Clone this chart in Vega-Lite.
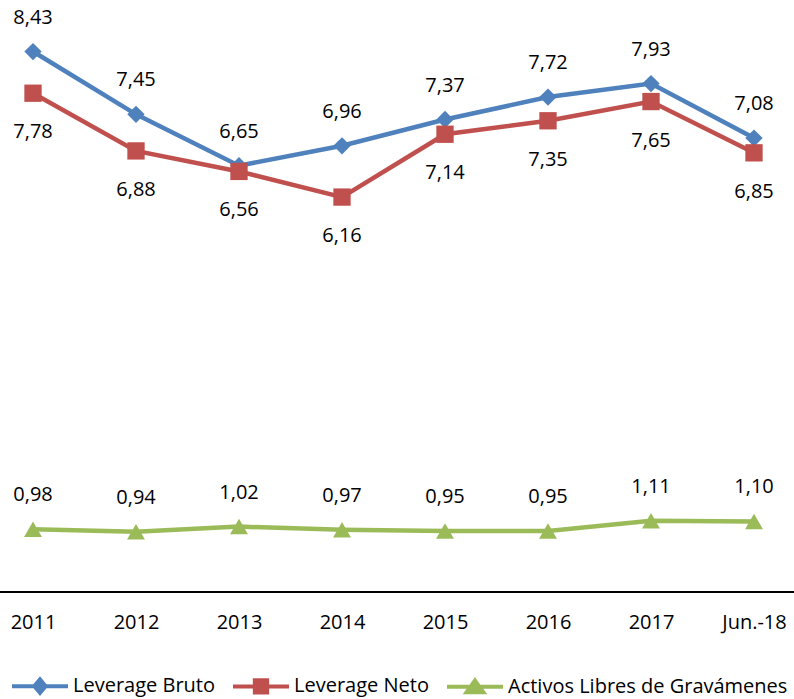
{
  "$schema": "https://vega.github.io/schema/vega-lite/v6.json",
  "width": 794,
  "height": 577,
  "autosize": "none",
  "padding": {"left": 0, "top": 15, "right": 0, "bottom": 107},
  "background": "white",
  "config": {
    "view": {"stroke": null},
    "font": "Open Sans",
    "locale": {"number": {"decimal": ",", "thousands": ".", "grouping": [3], "currency": ["", " €"]}}
  },
  "data": {"values": [
    {"year": "2011", "series": "Leverage Bruto", "value": 8.43},
    {"year": "2012", "series": "Leverage Bruto", "value": 7.45},
    {"year": "2013", "series": "Leverage Bruto", "value": 6.65},
    {"year": "2014", "series": "Leverage Bruto", "value": 6.96},
    {"year": "2015", "series": "Leverage Bruto", "value": 7.37},
    {"year": "2016", "series": "Leverage Bruto", "value": 7.72},
    {"year": "2017", "series": "Leverage Bruto", "value": 7.93},
    {"year": "Jun.-18", "series": "Leverage Bruto", "value": 7.08},
    {"year": "2011", "series": "Leverage Neto", "value": 7.78},
    {"year": "2012", "series": "Leverage Neto", "value": 6.88},
    {"year": "2013", "series": "Leverage Neto", "value": 6.56},
    {"year": "2014", "series": "Leverage Neto", "value": 6.16},
    {"year": "2015", "series": "Leverage Neto", "value": 7.14},
    {"year": "2016", "series": "Leverage Neto", "value": 7.35},
    {"year": "2017", "series": "Leverage Neto", "value": 7.65},
    {"year": "Jun.-18", "series": "Leverage Neto", "value": 6.85},
    {"year": "2011", "series": "Activos Libres de Gravámenes", "value": 0.98},
    {"year": "2012", "series": "Activos Libres de Gravámenes", "value": 0.94},
    {"year": "2013", "series": "Activos Libres de Gravámenes", "value": 1.02},
    {"year": "2014", "series": "Activos Libres de Gravámenes", "value": 0.97},
    {"year": "2015", "series": "Activos Libres de Gravámenes", "value": 0.95},
    {"year": "2016", "series": "Activos Libres de Gravámenes", "value": 0.95},
    {"year": "2017", "series": "Activos Libres de Gravámenes", "value": 1.11},
    {"year": "Jun.-18", "series": "Activos Libres de Gravámenes", "value": 1.10}
  ]},
  "encoding": {
    "x": {
      "field": "year", "type": "ordinal", "sort": null,
      "scale": {"type": "point", "range": [33, 754], "padding": 0},
      "axis": {"title": null, "domain": false, "ticks": false, "labelAngle": 0, "labelFont": "Open Sans", "labelFontSize": 20, "labelColor": "black", "labelPadding": 20}
    },
    "y": {
      "field": "value", "type": "quantitative",
      "scale": {"domain": [0, 9], "nice": false, "zero": true},
      "axis": null
    }
  },
  "layer": [
    {
      "mark": {"type": "rule", "color": "black", "strokeWidth": 1.5},
      "encoding": {"y": {"datum": 0}, "x": null}
    },
    {
      "mark": {"type": "line", "strokeWidth": 4.5},
      "encoding": {
        "color": {"field": "series", "type": "nominal",
          "scale": {"domain": ["Leverage Bruto", "Leverage Neto", "Activos Libres de Gravámenes"], "range": ["#4F81BD", "#C0504D", "#9BBB59"]},
          "legend": {
            "title": null, "orient": "none", "direction": "horizontal",
            "legendX": 10, "legendY": 641, "padding": 0,
            "symbolSize": 3136, "symbolStrokeWidth": 4, "symbolOpacity": 1,
            "labelFont": "Open Sans", "labelFontSize": 20, "labelColor": "black", "labelOffset": 3,
            "columnPadding": 10, "labelLimit": 400,
            "encode": {"symbols": {"update": {
              "shape": {"signal": "datum.value == 'Leverage Bruto' ? 'M-1,0H1M-0.2,0L0,-0.24L0.2,0L0,0.24Z' : datum.value == 'Leverage Neto' ? 'M-1,0H1M-0.22,-0.22H0.22V0.22H-0.22Z' : 'M-1,0H1M0,-0.22L0.3,0.2H-0.3Z'"},
              "stroke": {"scale": "color", "field": "value"},
              "fill": {"scale": "color", "field": "value"},
              "strokeWidth": {"value": 4}
            }}}
          }}
      }
    },
    {
      "transform": [{"filter": "datum.series == 'Leverage Bruto'"}],
      "mark": {"type": "point", "filled": true, "opacity": 1, "size": 300, "shape": "diamond"},
      "encoding": {"color": {"field": "series", "type": "nominal"}}
    },
    {
      "transform": [{"filter": "datum.series == 'Leverage Neto'"}],
      "mark": {"type": "point", "filled": true, "opacity": 1, "size": 300, "shape": "square"},
      "encoding": {"color": {"field": "series", "type": "nominal"}}
    },
    {
      "transform": [{"filter": "datum.series == 'Activos Libres de Gravámenes'"}],
      "mark": {"type": "point", "filled": true, "opacity": 1, "size": 320, "shape": "triangle-up"},
      "encoding": {"color": {"field": "series", "type": "nominal"}}
    },
    {
      "transform": [{"filter": "datum.series != 'Leverage Neto'"}],
      "mark": {"type": "text", "dy": -34, "fontSize": 20, "font": "Open Sans", "color": "black"},
      "encoding": {"text": {"field": "value", "type": "quantitative", "format": ".2f"}}
    },
    {
      "transform": [{"filter": "datum.series == 'Leverage Neto'"}],
      "mark": {"type": "text", "dy": 39, "fontSize": 20, "font": "Open Sans", "color": "black"},
      "encoding": {"text": {"field": "value", "type": "quantitative", "format": ".2f"}}
    }
  ]
}
